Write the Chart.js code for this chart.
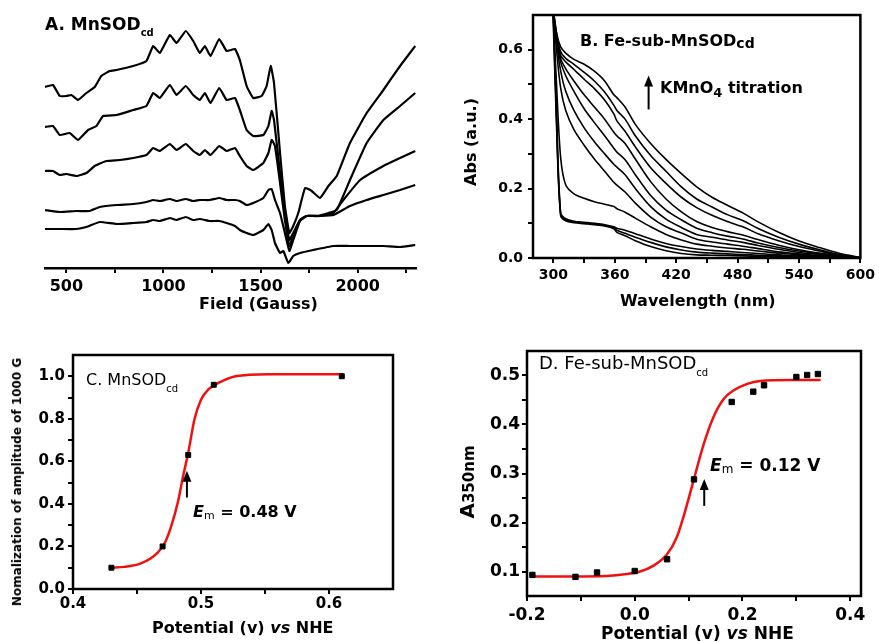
<!DOCTYPE html>
<html>
<head>
<meta charset="UTF-8">
<title>MnSOD / Fe-sub-MnSOD titrations</title>
<script src="https://cdn.jsdelivr.net/npm/chart.js@4.4.1/dist/chart.umd.min.js"></script>
<style>
body { margin: 0; background: #fff; }
#page { position: relative; width: 879px; height: 642px; overflow: hidden; font-family: 'DejaVu Sans', sans-serif; color: #000; }
#page canvas { position: absolute; }
.t { position: absolute; line-height: 1; white-space: nowrap; }
.b { font-weight: bold; }
.s { position: relative; }
.rot { transform: translate(-50%, -50%) rotate(-90deg); }
</style>
</head>
<body>
<div id="page">
	<canvas id="cA" width="440" height="330" style="left:0;top:0"></canvas>
	<canvas id="cB" width="439" height="330" style="left:440px;top:0"></canvas>
	<canvas id="cC" width="440" height="312" style="left:0;top:330px"></canvas>
	<canvas id="cD" width="439" height="312" style="left:440px;top:330px"></canvas>

	<div class="t b" style="left:45px;top:16px;font-size:17px">A. MnSOD<span class="s" style="font-size:10px;top:6px">cd</span></div>
	<div class="t b" style="left:199px;top:296px;font-size:16px">Field (Gauss)</div>

	<div class="t b" style="left:580px;top:33px;font-size:16px">B. Fe-sub-MnSOD<span class="s" style="font-size:14px;top:2px">cd</span></div>
	<div class="t b" style="left:660px;top:80px;font-size:16px">KMnO<span class="s" style="font-size:13px;top:4px">4</span> titration</div>
	<div class="t b rot" style="left:471px;top:142px;font-size:16px">Abs (a.u.)</div>
	<div class="t b" style="left:620px;top:293px;font-size:16px">Wavelength (nm)</div>

	<div class="t" style="left:86px;top:372px;font-size:16px">C. MnSOD<span class="s" style="font-size:10px;top:7px">cd</span></div>
	<div class="t b" style="left:193px;top:504px;font-size:16px"><i>E</i><span class="s" style="font-size:11px;font-weight:normal;top:2px">m</span> = 0.48 V</div>
	<div class="t b rot" style="left:17px;top:482px;font-size:12px">Nomalization of amplitude of 1000 G</div>
	<div class="t b" style="left:152px;top:620px;font-size:16px">Potential (v) <i>vs</i> NHE</div>

	<div class="t" style="left:539px;top:354px;font-size:18px">D. Fe-sub-MnSOD<span class="s" style="font-size:10px;top:7px">cd</span></div>
	<div class="t b" style="left:710px;top:457px;font-size:17px"><i>E</i><span class="s" style="font-size:12px;font-weight:normal;top:2px">m</span> = 0.12 V</div>
	<div class="t b rot" style="left:467px;top:482px;font-size:20px">A<span style="font-size:15px">350nm</span></div>
	<div class="t b" style="left:601px;top:625px;font-size:17px">Potential (v) <i>vs</i> NHE</div>
</div>

<script>
// ---- A: EPR traces (field in Gauss, amplitude in a.u.), top trace first
const fieldA1 = [388,431,466,500,526,560,603,646,680,723,758,844,912,947,981,1033,1067,1115,1153,1187,1213,1242,1287,1325,1368,1393,1428,1462,1505,1531,1552,1569,1600,1625,1648,1668,1694,1729,1763,1806,1849,1892,1960,2046,2132,2218,2296];
const ampA1 = [181,183,172,172,173,168,175,181,192,197,198,202,207,222,215,233,225,237,227,215,222,212,229,217,219,208,182,170,172,182,202,185,115,62,35,42,55,80,77,70,82,92,125,155,178,202,222];
const fieldA2 = [388,431,466,517,560,612,655,689,758,844,912,947,981,1033,1067,1115,1153,1187,1213,1242,1287,1325,1368,1393,1428,1462,1514,1540,1557,1569,1600,1625,1648,1668,1703,1737,1789,1849,1892,1960,2046,2132,2218,2296];
const ampA2 = [141,142,133,135,128,138,142,152,153,158,162,175,170,183,173,182,173,168,175,165,180,168,170,158,138,132,133,142,157,148,95,55,28,35,48,52,52,55,58,88,125,148,162,175];
const fieldA3 = [388,431,466,500,552,603,646,706,775,844,912,947,981,1033,1067,1115,1153,1187,1213,1242,1287,1325,1368,1393,1428,1462,1514,1540,1557,1574,1600,1625,1648,1668,1703,1737,1806,1875,1926,2012,2132,2218,2296];
const ampA3 = [97,97,93,94,92,95,102,107,108,110,113,120,117,124,118,124,117,113,118,113,122,117,120,112,102,98,105,115,128,122,85,48,22,32,48,52,52,55,68,88,102,110,117];
const fieldA4 = [388,466,552,620,672,758,844,912,947,981,1033,1067,1115,1153,1187,1239,1287,1325,1368,1393,1428,1462,1514,1540,1557,1574,1600,1625,1648,1668,1703,1737,1806,1875,1960,2046,2132,2218,2296];
const ampA4 = [58,56,57,57,61,63,64,66,68,67,69,67,69,67,68,68,70,68,68,67,63,65,70,78,79,68,55,35,17,28,47,52,52,53,62,68,73,78,83];
const fieldA5 = [388,466,552,603,672,758,844,912,947,981,1033,1067,1115,1153,1187,1239,1287,1325,1368,1393,1428,1462,1514,1540,1557,1574,1600,1617,1643,1668,1703,1771,1875,1960,2046,2132,2218,2296];
const ampA5 = [39,39,39,41,46,44,45,46,48,47,50,48,51,48,49,47,47,45,42,38,35,33,38,44,38,25,15,17,5,12,15,18,22,22,22,22,21,23];
const fieldTicks = [500,750,1000,1250,1500,1750,2000,2250];
const fieldLabels = [500,1000,1500,2000];

// ---- B: UV-vis spectra during KMnO4 titration (nm, Abs), lowest first
const wlB = [294,299,303,307,312,320,330,340,350,359,362,370,380,395,410,425,440,455,470,485,500,520,540,560,580,600];
const absB1 = [1.2,0.76,0.38,0.122,0.107,0.102,0.099,0.096,0.092,0.084,0.074,0.064,0.05,0.033,0.021,0.013,0.009,0.008,0.007,0.006,0.005,0.004,0.003,0.002,0.001,0];
const absB2 = [1.2,0.78,0.4,0.126,0.11,0.104,0.101,0.098,0.094,0.087,0.08,0.071,0.06,0.045,0.032,0.023,0.017,0.014,0.012,0.01,0.008,0.006,0.004,0.003,0.001,0];
const absB3 = [1.2,0.8,0.42,0.13,0.113,0.106,0.103,0.1,0.096,0.09,0.086,0.08,0.07,0.055,0.042,0.033,0.026,0.022,0.019,0.016,0.013,0.009,0.006,0.004,0.002,0];
const absB4 = [1.2,0.75,0.5,0.29,0.21,0.185,0.172,0.162,0.155,0.148,0.142,0.132,0.115,0.09,0.068,0.052,0.04,0.034,0.029,0.025,0.02,0.014,0.009,0.005,0.002,0];
const absB5 = [1.2,0.74,0.6,0.49,0.425,0.37,0.325,0.285,0.25,0.218,0.21,0.19,0.158,0.118,0.09,0.072,0.054,0.046,0.04,0.034,0.027,0.018,0.012,0.007,0.003,0];
const absB6 = [1.2,0.74,0.62,0.54,0.48,0.425,0.375,0.335,0.3,0.27,0.262,0.24,0.2,0.148,0.112,0.088,0.068,0.06,0.052,0.045,0.036,0.025,0.016,0.01,0.004,0];
const absB7 = [1.2,0.74,0.63,0.565,0.525,0.48,0.43,0.39,0.352,0.316,0.305,0.283,0.24,0.18,0.138,0.11,0.086,0.073,0.063,0.055,0.043,0.03,0.02,0.012,0.005,0];
const absB8 = [1.2,0.74,0.635,0.575,0.545,0.51,0.47,0.435,0.4,0.362,0.352,0.33,0.285,0.22,0.17,0.133,0.105,0.088,0.076,0.066,0.053,0.037,0.024,0.014,0.006,0];
const absB9 = [1.2,0.745,0.64,0.585,0.565,0.543,0.515,0.488,0.455,0.415,0.395,0.365,0.32,0.26,0.215,0.175,0.145,0.123,0.105,0.09,0.07,0.05,0.033,0.02,0.008,0];
const absB10 = [1.2,0.75,0.645,0.595,0.575,0.558,0.535,0.51,0.478,0.44,0.425,0.4,0.352,0.295,0.25,0.205,0.17,0.147,0.125,0.108,0.085,0.06,0.04,0.024,0.01,0.001];
const absB11 = [1.2,0.75,0.65,0.608,0.59,0.572,0.558,0.538,0.51,0.47,0.462,0.435,0.385,0.33,0.284,0.243,0.205,0.175,0.152,0.13,0.104,0.074,0.049,0.03,0.013,0.002];
const wlTicks = [300,330,360,390,420,450,480,510,540,570,600];
const wlLabels = [300,360,420,480,540,600];
const absTicks = [0,0.1,0.2,0.3,0.4,0.5,0.6];
const absLabels = [0,0.2,0.4,0.6];

// ---- C: MnSOD, normalised 1000 G amplitude vs potential
const potC = [0.43,0.47,0.49,0.51,0.61];
const ampC = [0.10,0.20,0.63,0.96,1.00];
const fitPotC = [0.43,0.44,0.453,0.466,0.472,0.477,0.482,0.486,0.49,0.495,0.5,0.506,0.514,0.527,0.553,0.611];
const fitAmpC = [0.10,0.104,0.12,0.17,0.22,0.30,0.41,0.53,0.64,0.80,0.89,0.94,0.97,1.00,1.01,1.01];
const potTicksC = [0.4,0.45,0.5,0.55,0.6];
const potLabelsC = [0.4,0.5,0.6];
const ampTicksC = [0,0.1,0.2,0.3,0.4,0.5,0.6,0.7,0.8,0.9,1.0];
const ampLabelsC = [0,0.2,0.4,0.6,0.8,1.0];

// ---- D: Fe-sub-MnSOD, A350 vs potential
const potD = [-0.19,-0.11,-0.07,0.0,0.06,0.11,0.18,0.22,0.24,0.30,0.32,0.34];
const absD = [0.093,0.089,0.098,0.101,0.125,0.288,0.446,0.467,0.480,0.497,0.501,0.503];
const fitPotD = [-0.194,-0.114,-0.052,-0.015,0.01,0.035,0.06,0.078,0.09,0.109,0.128,0.146,0.165,0.184,0.209,0.233,0.289,0.345];
const fitAbsD = [0.09,0.09,0.091,0.095,0.10,0.112,0.135,0.17,0.21,0.285,0.36,0.415,0.452,0.47,0.483,0.489,0.491,0.491];
const potTicksD = [-0.2,-0.1,0,0.1,0.2,0.3,0.4];
const potLabelsD = [-0.2,0,0.2,0.4];
const absTicksD = [0.1,0.15,0.2,0.25,0.3,0.35,0.4,0.45,0.5];
const absLabelsD = [0.1,0.2,0.3,0.4,0.5];

const black = '#000';
const red = 'rgb(240,16,16)';
const FONT = "'DejaVu Sans', sans-serif";

const pts = (xs, ys) => xs.map((x, i) => ({ x: x, y: ys[i] }));

// box around the plot area (Origin style frame)
const frame = {
	id: 'frame',
	afterDraw(chart) {
		const { ctx, chartArea: a } = chart;
		ctx.save();
		ctx.lineWidth = 2.5;
		ctx.strokeStyle = black;
		ctx.strokeRect(a.left, a.top, a.right - a.left, a.bottom - a.top);
		ctx.restore();
	}
};

// vertical arrow, given in data units
const arrow = {
	id: 'arrow',
	afterDraw(chart, args, o) {
		if (o.x === undefined) return;
		const { ctx, scales } = chart;
		const px = scales.x.getPixelForValue(o.x);
		const y0 = scales.y.getPixelForValue(o.from);
		const y1 = scales.y.getPixelForValue(o.to);
		ctx.save();
		ctx.strokeStyle = black;
		ctx.fillStyle = black;
		ctx.lineWidth = 2;
		ctx.beginPath(); ctx.moveTo(px, y0); ctx.lineTo(px, y1 + 8); ctx.stroke();
		ctx.beginPath(); ctx.moveTo(px, y1); ctx.lineTo(px - 4.5, y1 + 11); ctx.lineTo(px + 4.5, y1 + 11); ctx.closePath(); ctx.fill();
		ctx.restore();
	}
};

function axis(list, labelled, fmt, size, pad, fit) {
	return {
		type: 'linear',
		afterBuildTicks: s => { s.ticks = list.map(v => ({ value: v })); },
		afterFit: fit,
		ticks: {
			autoSkip: false, maxRotation: 0, padding: pad, color: black,
			font: { family: FONT, size: size, weight: 'bold' },
			callback: v => labelled.some(l => Math.abs(l - v) < 1e-9) ? fmt(v) : ''
		},
		grid: { drawOnChartArea: false, drawTicks: true, tickLength: 5, color: black, lineWidth: 2 },
		border: { display: false }
	};
}

const base = (padding) => ({
	responsive: false,
	animation: false,
	layout: { padding: padding },
	plugins: { legend: { display: false }, tooltip: { enabled: false } }
});

const one = v => v.toFixed(1);

// A
const optA = base({ left: 45, right: 24, top: 0, bottom: 0 });
optA.scales = {
	x: Object.assign(axis(fieldTicks, fieldLabels, v => String(v), 16, 4, s => { s.height = 62; }),
		{ min: 390, max: 2300, border: { display: true, color: black, width: 2.5 } }),
	y: { display: false, min: 0, max: 268 }
};
new Chart(document.getElementById('cA'), {
	type: 'line',
	data: {
		datasets: [[fieldA1, ampA1], [fieldA2, ampA2], [fieldA3, ampA3], [fieldA4, ampA4], [fieldA5, ampA5]].map(p => ({
			data: pts(p[0], p[1]), borderColor: black, borderWidth: 2.2, pointRadius: 0, tension: 0.12, fill: false
		}))
	},
	options: optA
});

// B
const optB = base({ left: 0, right: 18, top: 15, bottom: 0 });
optB.scales = {
	x: Object.assign(axis(wlTicks, wlLabels, v => String(v), 14, 4, s => { s.height = 72; }), { min: 280, max: 600 }),
	y: Object.assign(axis(absTicks, absLabels, one, 14, 5, s => { s.width = 93; }), { min: 0, max: 0.7 })
};
optB.plugins.arrow = { x: 393, from: 0.428, to: 0.526 };
new Chart(document.getElementById('cB'), {
	type: 'line',
	data: {
		datasets: [absB1, absB2, absB3, absB4, absB5, absB6, absB7, absB8, absB9, absB10, absB11].map(a => ({
			data: pts(wlB, a), borderColor: black, borderWidth: 1.6, pointRadius: 0, tension: 0.3, fill: false
		}))
	},
	options: optB,
	plugins: [frame, arrow]
});

// C
const optC = base({ left: 0, right: 47, top: 25, bottom: 0 });
optC.scales = {
	x: Object.assign(axis(potTicksC, potLabelsC, one, 15, 1, s => { s.height = 53; }), { min: 0.4, max: 0.65 }),
	y: Object.assign(axis(ampTicksC, ampLabelsC, one, 15, 3, s => { s.width = 73; }), { min: 0, max: 1.1 })
};
optC.plugins.arrow = { x: 0.489, from: 0.43, to: 0.556 };
new Chart(document.getElementById('cC'), {
	type: 'line',
	data: {
		datasets: [
			{ data: pts(potC, ampC), showLine: false, pointStyle: 'rect', pointRadius: 3.5, pointBorderWidth: 1,
				pointBackgroundColor: black, pointBorderColor: black, order: 0 },
			{ data: pts(fitPotC, fitAmpC), borderColor: red, borderWidth: 2.5, pointRadius: 0,
				cubicInterpolationMode: 'monotone', fill: false, order: 1 }
		]
	},
	options: optC,
	plugins: [frame, arrow]
});

// D
const optD = base({ left: 0, right: 18, top: 21, bottom: 0 });
optD.scales = {
	x: Object.assign(axis(potTicksD, potLabelsD, one, 17, 4, s => { s.height = 46; }), { min: -0.2, max: 0.42 }),
	y: Object.assign(axis(absTicksD, absLabelsD, one, 17, 2, s => { s.width = 87; }), { min: 0.05, max: 0.55 })
};
optD.plugins.arrow = { x: 0.129, from: 0.234, to: 0.289 };
new Chart(document.getElementById('cD'), {
	type: 'line',
	data: {
		datasets: [
			{ data: pts(potD, absD), showLine: false, pointStyle: 'rect', pointRadius: 3.8, pointBorderWidth: 1,
				pointBackgroundColor: black, pointBorderColor: black, order: 0 },
			{ data: pts(fitPotD, fitAbsD), borderColor: red, borderWidth: 2.5, pointRadius: 0,
				cubicInterpolationMode: 'monotone', fill: false, order: 1 }
		]
	},
	options: optD,
	plugins: [frame, arrow]
});
</script>
</body>
</html>
